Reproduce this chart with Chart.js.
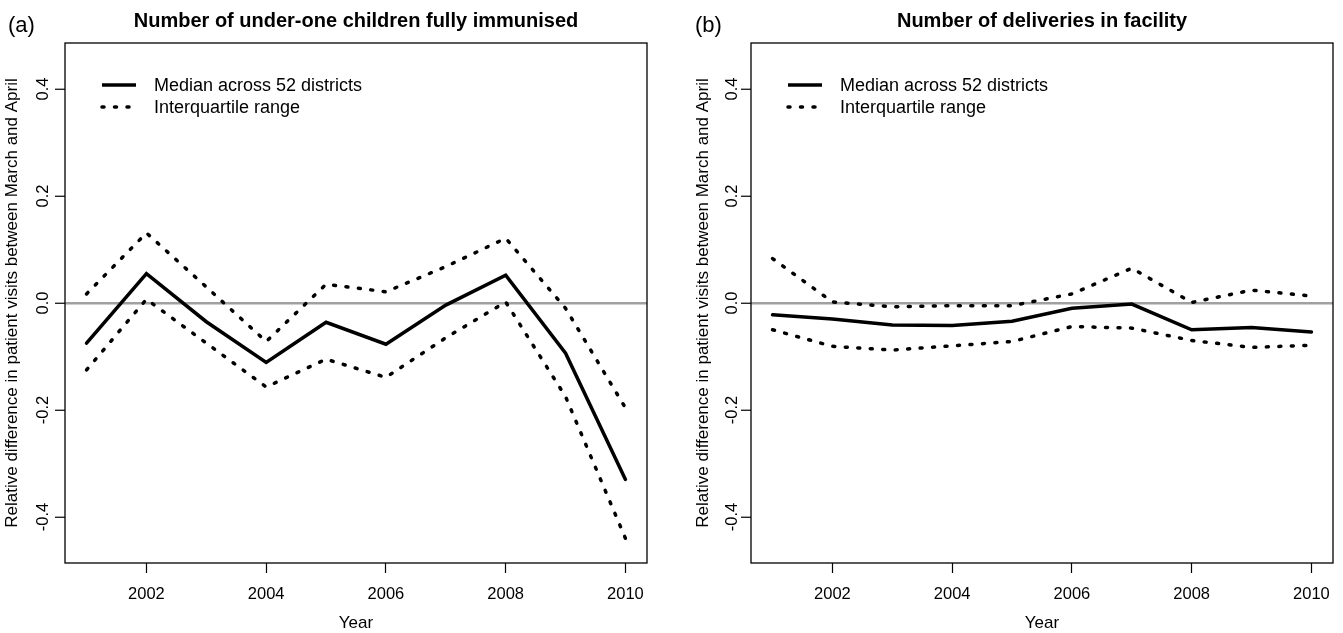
<!DOCTYPE html>
<html>
<head>
<meta charset="utf-8">
<title>March-April relative difference</title>
<script src="https://cdn.jsdelivr.net/npm/chart.js@4.4.0/dist/chart.umd.min.js"></script>
<style>
  body { margin: 0; background: #fff; }
  .panel { position: absolute; top: 0; }
</style>
</head>
<body>
<div class="panel" style="left:0"><canvas id="chartA" width="671" height="633"></canvas></div>
<div class="panel" style="left:671px"><canvas id="chartB" width="672" height="633"></canvas></div>

<script>
// data
const years = [2001, 2002, 2003, 2004, 2005, 2006, 2007, 2008, 2009, 2010];
const xTicks = [2002, 2004, 2006, 2008, 2010];
const yTicks = [-0.4, -0.2, 0.0, 0.2, 0.4];

// (a) under-one children fully immunised
const medianA = [-0.075, 0.055, -0.035, -0.111, -0.036, -0.077, -0.004, 0.052, -0.094, -0.330];
const upperA  = [0.017, 0.131, 0.030, -0.072, 0.035, 0.021, 0.068, 0.121, -0.010, -0.196];
const lowerA  = [-0.125, 0.007, -0.075, -0.157, -0.105, -0.139, -0.065, 0.002, -0.175, -0.440];

// (b) deliveries in facility
const medianB = [-0.022, -0.030, -0.041, -0.042, -0.034, -0.010, -0.002, -0.050, -0.046, -0.054];
const upperB  = [0.083, 0.002, -0.007, -0.005, -0.005, 0.017, 0.065, 0.001, 0.024, 0.013];
const lowerB  = [-0.050, -0.081, -0.088, -0.080, -0.072, -0.044, -0.047, -0.070, -0.083, -0.079];

const legendLabels = ['Median across 52 districts', 'Interquartile range'];
const yTitle = 'Relative difference in patient visits between March and April';

const FONT = '"Liberation Sans", Arial, Helvetica, sans-serif';
const DOTS = [2, 10.5];
Chart.defaults.font.family = FONT;
Chart.defaults.color = '#000';

function toPoints(vals) {
    return years.map((yr, i) => ({ x: yr, y: vals[i] }));
}

function fmtTick(v) {
    return v.toFixed(1);
}

// R-style decorations: box, rotated y labels, title, panel letter, legend
const rDecor = {
    id: 'rDecor',
    afterDraw(chart, args, opts) {
        const ctx = chart.ctx;
        const area = chart.chartArea;
        const yScale = chart.scales.y;
        ctx.save();

        // box round the plot region
        ctx.strokeStyle = '#000';
        ctx.lineWidth = 1.3;
        ctx.strokeRect(area.left, area.top, area.right - area.left, area.bottom - area.top);

        // y tick labels, parallel to the axis
        ctx.fillStyle = '#000';
        ctx.font = '16.5px ' + FONT;
        ctx.textAlign = 'center';
        ctx.textBaseline = 'middle';
        yScale.ticks.forEach(t => {
            const py = yScale.getPixelForValue(t.value);
            ctx.save();
            ctx.translate(area.left - opts.tickOffset, py);
            ctx.rotate(-Math.PI / 2);
            ctx.fillText(fmtTick(t.value), 0, 0);
            ctx.restore();
        });

        // main title
        ctx.font = 'bold 20px ' + FONT;
        ctx.textBaseline = 'alphabetic';
        ctx.fillText(opts.title, (area.left + area.right) / 2, 27);

        // panel letter
        ctx.font = '22px ' + FONT;
        ctx.textAlign = 'left';
        ctx.fillText(opts.letter, opts.letterX, 32);

        // legend
        const lx = area.left + 37;
        const rows = [area.top + 42, area.top + 64];
        ctx.lineWidth = 3.5;
        ctx.strokeStyle = '#000';
        rows.forEach((ry, i) => {
            ctx.beginPath();
            if (i === 1) {
                ctx.setLineDash(DOTS);
                ctx.lineCap = 'round';
            } else {
                ctx.setLineDash([]);
                ctx.lineCap = 'butt';
            }
            ctx.moveTo(lx, ry);
            ctx.lineTo(lx + 34, ry);
            ctx.stroke();
        });
        ctx.setLineDash([]);
        ctx.font = '18px ' + FONT;
        ctx.textBaseline = 'middle';
        rows.forEach((ry, i) => {
            ctx.fillText(legendLabels[i], lx + 52, ry + 1);
        });

        ctx.restore();
    }
};

function makePanel(id, median, upper, lower, cfg) {
    const ctx = document.getElementById(id).getContext('2d');
    const lineBase = { borderColor: '#000', borderWidth: 3.5, pointRadius: 0, tension: 0, fill: false };

    return new Chart(ctx, {
        type: 'line',
        data: {
            datasets: [
                Object.assign({ label: 'upper', data: toPoints(upper), borderDash: DOTS, borderCapStyle: 'round' }, lineBase),
                Object.assign({ label: 'lower', data: toPoints(lower), borderDash: DOTS, borderCapStyle: 'round' }, lineBase),
                Object.assign({ label: 'median', data: toPoints(median), borderCapStyle: 'round' }, lineBase)
            ]
        },
        options: {
            responsive: false,
            animation: false,
            layout: { padding: { left: 0, right: cfg.rightPad, top: 43, bottom: 0 } },
            plugins: {
                legend: { display: false },
                tooltip: { enabled: false },
                rDecor: { title: cfg.title, letter: cfg.letter, letterX: cfg.letterX, tickOffset: cfg.tickOffset }
            },
            scales: {
                x: {
                    type: 'linear',
                    min: 2000.64,
                    max: 2010.36,
                    afterBuildTicks: s => { s.ticks = xTicks.map(v => ({ value: v })); },
                    afterFit: s => { s.height = 70; },
                    grid: { drawOnChartArea: false, drawTicks: true, tickLength: 10, tickColor: '#000', tickWidth: 1.2 },
                    border: { display: false },
                    ticks: { font: { size: 16.5 }, padding: 12, maxRotation: 0, callback: v => String(v) },
                    title: { display: true, text: 'Year', font: { size: 17, lineHeight: 1.1 }, padding: { top: 0, bottom: 0 } }
                },
                y: {
                    type: 'linear',
                    min: -0.486,
                    max: 0.486,
                    afterBuildTicks: s => { s.ticks = yTicks.map(v => ({ value: v })); },
                    afterFit: s => { s.width = cfg.yAxisWidth; },
                    grid: {
                        drawTicks: true,
                        tickLength: 10,
                        tickColor: '#000',
                        tickWidth: 1.2,
                        lineWidth: 2.5,
                        color: c => (c.tick && c.tick.value === 0) ? '#a0a0a0' : 'rgba(0,0,0,0)'
                    },
                    border: { display: false },
                    ticks: { display: false },
                    title: { display: true, text: yTitle, font: { size: 17 }, padding: { top: cfg.yTitlePad, bottom: 0 } }
                }
            }
        },
        plugins: [rDecor]
    });
}

makePanel('chartA', medianA, upperA, lowerA, {
    title: 'Number of under-one children fully immunised', letter: '(a)', letterX: 8,
    yAxisWidth: 65, rightPad: 24, tickOffset: 22, yTitlePad: 2
});
makePanel('chartB', medianB, upperB, lowerB, {
    title: 'Number of deliveries in facility', letter: '(b)', letterX: 24,
    yAxisWidth: 80, rightPad: 10, tickOffset: 19, yTitlePad: 22
});
</script>
</body>
</html>
